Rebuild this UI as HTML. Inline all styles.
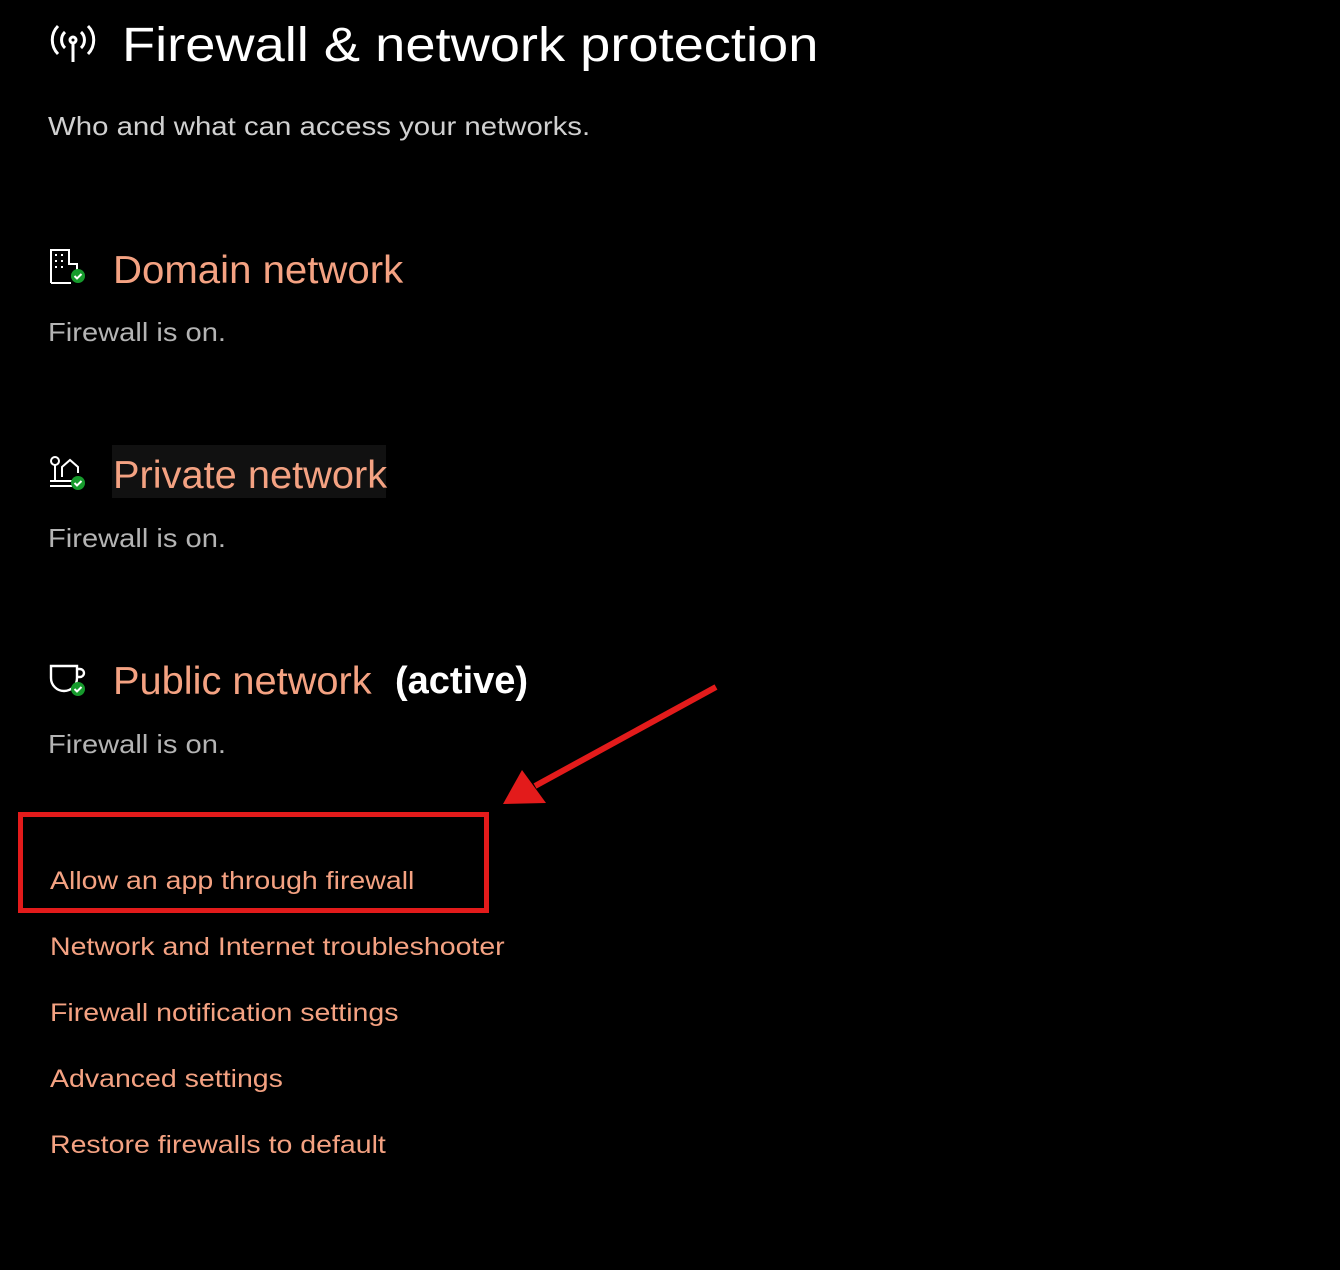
<!DOCTYPE html>
<html><head><style>
body{margin:0;width:1340px;height:1270px;background:#000;position:relative;overflow:hidden;font-family:"Liberation Sans",sans-serif}
.t{position:absolute;line-height:1;white-space:nowrap;transform-origin:0 50%}
.o{color:#f4a282}
.g{color:#b4b4b4}
.l{font-size:25px;transform:scaleX(1.14)}
.f{font-size:26px;transform:scaleX(1.12)}
</style></head><body>
<div class="t" style="left:122px;top:22px;font-size:48px;color:#fff;transform:scaleX(1.13)">Firewall &amp; network protection</div>
<div class="t" style="left:48px;top:113px;font-size:26px;color:#d0d0d0;transform:scaleX(1.13)">Who and what can access your networks.</div>

<svg style="position:absolute;left:48px;top:22px" width="52" height="44" viewBox="0 0 52 44" fill="none" stroke="#fff" stroke-width="3">
<circle cx="25" cy="18" r="3"/><line x1="25" y1="21" x2="25" y2="40"/>
<path d="M17 10a11 11 0 0 0 0 16M33 10a11 11 0 0 1 0 16M10 4a20 20 0 0 0 0 28M40 4a20 20 0 0 1 0 28"/>
</svg>

<svg style="position:absolute;left:48px;top:248px" width="40" height="38" viewBox="0 0 40 38" fill="none" stroke="#fff" stroke-width="2">
<path d="M3 35V2h18v14h8v10"/><path d="M3 35h20"/>
<g fill="#fff" stroke="none"><rect x="7" y="6" width="2" height="2"/><rect x="13" y="6" width="2" height="2"/><rect x="7" y="12" width="2" height="2"/><rect x="13" y="12" width="2" height="2"/><rect x="7" y="18" width="2" height="2"/><rect x="13" y="18" width="2" height="2"/></g>
<circle cx="30" cy="28" r="7" fill="#169a2c" stroke="none"/><path d="M26.5 28l2.5 2.5 4.5-4.5" stroke="#fff"/>
</svg>
<div class="t o" style="left:113px;top:251px;font-size:39px;transform:scaleX(1.03)">Domain network</div>
<div class="t g f" style="left:48px;top:319px">Firewall is on.</div>

<div style="position:absolute;left:112px;top:445px;width:274px;height:53px;background:#111"></div>
<svg style="position:absolute;left:48px;top:455px" width="40" height="38" viewBox="0 0 40 38" fill="none" stroke="#fff" stroke-width="2">
<circle cx="7" cy="6" r="4"/><line x1="7" y1="10" x2="7" y2="26"/><path d="M14 22V12l8-7 8 7v6"/><path d="M2 26h22M2 31h22"/>
<circle cx="30" cy="28" r="7" fill="#169a2c" stroke="none"/><path d="M26.5 28l2.5 2.5 4.5-4.5" stroke="#fff"/>
</svg>
<div class="t o" style="left:113px;top:456px;font-size:39px;transform:scaleX(1.02)">Private network</div>
<div class="t g f" style="left:48px;top:525px">Firewall is on.</div>

<svg style="position:absolute;left:48px;top:662px" width="40" height="38" viewBox="0 0 40 38" fill="none" stroke="#fff" stroke-width="2.4">
<path d="M3 4h26v12a13 13 0 0 1-26 0z"/><path d="M29 7h3a4 4 0 0 1 0 8h-3"/>
<circle cx="30" cy="27" r="7" fill="#169a2c" stroke="none"/><path d="M26.5 27l2.5 2.5 4.5-4.5" stroke="#fff" stroke-width="2"/>
</svg>
<div class="t o" style="left:113px;top:662px;font-size:39px;transform:scaleX(1.02)">Public network</div>
<div class="t" style="left:395px;top:662px;font-size:38px;color:#fff;font-weight:bold">(active)</div>
<div class="t g f" style="left:48px;top:731px">Firewall is on.</div>

<div style="position:absolute;left:18px;top:812px;width:461px;height:91px;border:5px solid #e31b1b"></div>
<svg style="position:absolute;left:0;top:0" width="1340" height="1270">
<line x1="716" y1="687" x2="535" y2="786" stroke="#e31b1b" stroke-width="6"/>
<polygon points="503,804 522,770 546,803" fill="#e31b1b"/>
</svg>

<div class="t o l" style="left:50px;top:869px">Allow an app through firewall</div>
<div class="t o l" style="left:50px;top:935px">Network and Internet troubleshooter</div>
<div class="t o l" style="left:50px;top:1001px">Firewall notification settings</div>
<div class="t o l" style="left:50px;top:1067px">Advanced settings</div>
<div class="t o l" style="left:50px;top:1133px">Restore firewalls to default</div>
</body></html>
